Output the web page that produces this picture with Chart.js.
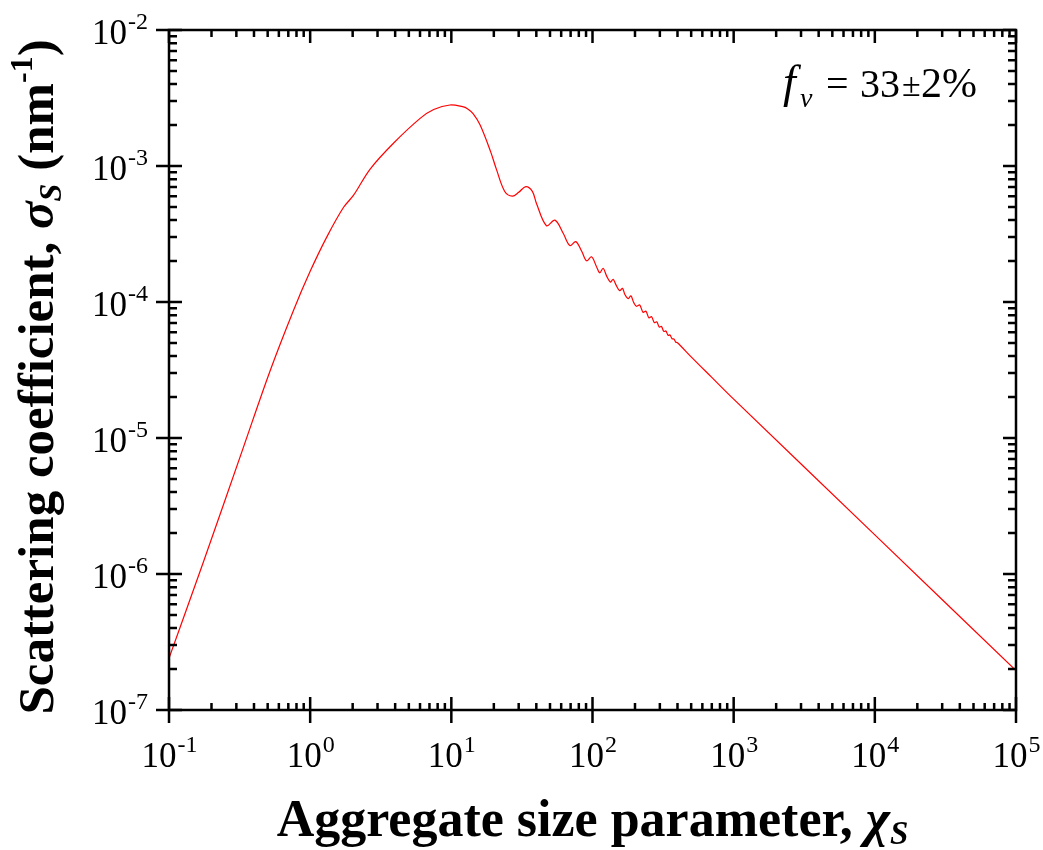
<!DOCTYPE html>
<html>
<head>
    <title>Scattering coefficient</title>
    <script src="https://cdn.jsdelivr.net/npm/chart.js"></script>
    <style>
        body { margin: 0; background: #fff; }
        #wrap { width: 1043px; height: 850px; position: relative; }
    </style>
</head>
<body>
    <div id="wrap"><canvas id="sigmaChart"></canvas></div>

    <script>
        // aggregate size parameter (x) and scattering coefficient in nm^-1 (y)
        const sizeParam = [0.1, 0.175, 0.336, 0.519, 0.759, 1.0, 1.31, 1.72, 2.03, 2.66, 3.89, 6.01, 7.5, 9.77,
            12.0, 13.0, 14.3, 16.0, 19.0, 20.9, 23.9, 27.1, 30.0, 33.7, 37.5, 40.1, 47.2, 54.2, 62.0, 69.2,
            76.2, 84.0, 90.8, 98.4, 106, 112.5, 118.9, 126, 134, 140, 147, 156, 163, 170, 179, 187, 196, 205,
            216, 228, 239, 251, 262, 274, 285, 297, 308, 320, 331, 343, 354, 366, 377, 389, 400, 500, 697,
            1000, 10000, 100000];
        const scattCoef = [2.4e-7, 1.22e-6, 8.5e-6, 3.1e-5, 8.6e-5, 1.68e-4, 3.0e-4, 4.95e-4, 6.1e-4, 9.5e-4,
            1.47e-3, 2.24e-3, 2.6e-3, 2.81e-3, 2.73e-3, 2.64e-3, 2.42e-3, 2.0e-3, 1.27e-3, 9.4e-4, 6.5e-4,
            6.0e-4, 6.4e-4, 7.05e-4, 6.5e-4, 5.3e-4, 3.64e-4, 4.0e-4, 3.2e-4, 2.6e-4, 2.78e-4, 2.35e-4,
            2.01e-4, 2.15e-4, 1.85e-4, 1.64e-4, 1.77e-4, 1.55e-4, 1.40e-4, 1.47e-4, 1.33e-4, 1.21e-4,
            1.26e-4, 1.13e-4, 1.06e-4, 1.11e-4, 9.9e-5, 9.3e-5, 9.5e-5, 8.4e-5, 8.55e-5, 7.65e-5, 7.8e-5,
            7.05e-5, 7.15e-5, 6.55e-5, 6.6e-5, 6.08e-5, 6.12e-5, 5.7e-5, 5.72e-5, 5.37e-5, 5.35e-5,
            5.06e-5, 5.02e-5, 3.95e-5, 2.8e-5, 1.93e-5, 1.94e-6, 1.95e-7];

        // decade exponents used for the tick labels
        const xExps = [-1, 0, 1, 2, 3, 4, 5];
        const yExps = [-7, -6, -5, -4, -3, -2];

        const SERIF = '"Liberation Serif", "Times New Roman", serif';

        function drawPow(ctx, exp, x, y, align, size) {
            // "10" with a raised exponent, x is the anchor
            const supSize = Math.round(size * 0.68);
            ctx.font = size + 'px ' + SERIF;
            const wb = ctx.measureText('10').width;
            ctx.font = supSize + 'px ' + SERIF;
            const we = ctx.measureText(String(exp)).width;
            let left = x;
            if (align === 'center') left = x - (wb + we) / 2;
            if (align === 'right') left = x - (wb + we);
            ctx.textAlign = 'left';
            ctx.textBaseline = 'alphabetic';
            ctx.font = size + 'px ' + SERIF;
            ctx.fillText('10', left, y);
            ctx.font = supSize + 'px ' + SERIF;
            ctx.fillText(String(exp), left + wb + 1, y - size * 0.42);
        }

        // draws a list of [text, font, dy] pieces one after another, centred on cx
        function drawPieces(ctx, pieces, cx, y) {
            let total = 0;
            pieces.forEach(p => { ctx.font = p[1]; total += ctx.measureText(p[0]).width; });
            let px = cx - total / 2;
            ctx.textAlign = 'left';
            ctx.textBaseline = 'alphabetic';
            pieces.forEach(p => {
                ctx.font = p[1];
                ctx.fillText(p[0], px, y + p[2]);
                px += ctx.measureText(p[0]).width;
            });
        }

        const framePlugin = {
            id: 'frame',
            afterDraw(chart) {
                const ctx = chart.ctx;
                const a = chart.chartArea;
                const xs = chart.scales.x;
                const ys = chart.scales.y;
                ctx.save();
                ctx.strokeStyle = '#000';
                ctx.fillStyle = '#000';
                ctx.lineWidth = 2.5;
                ctx.strokeRect(a.left, a.top, a.right - a.left, a.bottom - a.top);

                ctx.beginPath();
                // x ticks (bottom crosses the axis, top points in)
                for (let e = xExps[0]; e <= xExps[xExps.length - 1]; e++) {
                    const px = xs.getPixelForValue(Math.pow(10, e));
                    ctx.moveTo(px, a.bottom + 13); ctx.lineTo(px, a.bottom - 13);
                    ctx.moveTo(px, a.top); ctx.lineTo(px, a.top + 13);
                    if (e === xExps[xExps.length - 1]) break;
                    for (let m = 2; m <= 9; m++) {
                        const mx = xs.getPixelForValue(m * Math.pow(10, e));
                        ctx.moveTo(mx, a.bottom); ctx.lineTo(mx, a.bottom - 7);
                        ctx.moveTo(mx, a.top); ctx.lineTo(mx, a.top + 7);
                    }
                }
                // y ticks
                for (let e = yExps[0]; e <= yExps[yExps.length - 1]; e++) {
                    const py = ys.getPixelForValue(Math.pow(10, e));
                    ctx.moveTo(a.left - 13, py); ctx.lineTo(a.left + 13, py);
                    ctx.moveTo(a.right, py); ctx.lineTo(a.right - 13, py);
                    if (e === yExps[yExps.length - 1]) break;
                    for (let m = 2; m <= 9; m++) {
                        const my = ys.getPixelForValue(m * Math.pow(10, e));
                        ctx.moveTo(a.left, my); ctx.lineTo(a.left + 8, my);
                        ctx.moveTo(a.right, my); ctx.lineTo(a.right - 8, my);
                    }
                }
                ctx.stroke();

                // tick labels
                xExps.forEach(e => drawPow(ctx, e, xs.getPixelForValue(Math.pow(10, e)), a.bottom + 57, 'center', 35));
                yExps.forEach(e => drawPow(ctx, e, a.left - 22, ys.getPixelForValue(Math.pow(10, e)) + 14, 'right', 35));

                // x title
                drawPieces(ctx, [
                    ['Aggregate size parameter, ', 'bold 52px ' + SERIF, 0],
                    ['\u03C7', 'italic bold 52px ' + SERIF, 0],
                    ['S', 'italic bold 33px ' + SERIF, 8]
                ], (a.left + a.right) / 2, 836);

                // y title (rotated)
                ctx.save();
                ctx.translate(53, 377);
                ctx.rotate(-Math.PI / 2);
                drawPieces(ctx, [
                    ['Scattering coefficient, ', 'bold 51px ' + SERIF, 0],
                    ['\u03C3', 'italic bold 51px ' + SERIF, 0],
                    ['S', 'italic bold 32px ' + SERIF, 8],
                    [' (nm', 'bold 51px ' + SERIF, 0],
                    ['-1', 'bold 32px ' + SERIF, -21],
                    [')', 'bold 51px ' + SERIF, 0]
                ], 0, 0);
                ctx.restore();

                // annotation f_v = 33 ± 2%
                ctx.textAlign = 'left';
                ctx.font = 'italic 46px ' + SERIF;
                ctx.fillText('f', 783, 97);
                ctx.font = 'italic 28px ' + SERIF;
                ctx.fillText('v', 800, 107);
                ctx.font = '40px ' + SERIF;
                ctx.fillText('=', 826, 97);
                ctx.fillText('33', 860, 97);
                ctx.font = '34px ' + SERIF;
                ctx.fillText('\u00B1', 902, 96);
                ctx.font = '42px ' + SERIF;
                ctx.fillText('2%', 921, 97);
                ctx.restore();
            }
        };

        const points = sizeParam.map((v, i) => ({ x: v, y: scattCoef[i] }));

        const ctx = document.getElementById('sigmaChart').getContext('2d');
        const chart = new Chart(ctx, {
            type: 'line',
            data: {
                datasets: [{
                    label: 'sigma_S',
                    data: points,
                    borderColor: '#ff0000',
                    borderWidth: 1.2,
                    pointRadius: 0,
                    fill: false,
                    tension: 0.35
                }]
            },
            options: {
                responsive: true,
                maintainAspectRatio: false,
                animation: false,
                layout: {
                    padding: { left: 169, top: 30, right: 27, bottom: 140 }
                },
                scales: {
                    x: { type: 'logarithmic', min: 0.1, max: 100000, display: false },
                    y: { type: 'logarithmic', min: 1e-7, max: 1e-2, display: false }
                },
                plugins: {
                    legend: { display: false },
                    tooltip: { enabled: false }
                }
            },
            plugins: [framePlugin]
        });
    </script>
</body>
</html>
